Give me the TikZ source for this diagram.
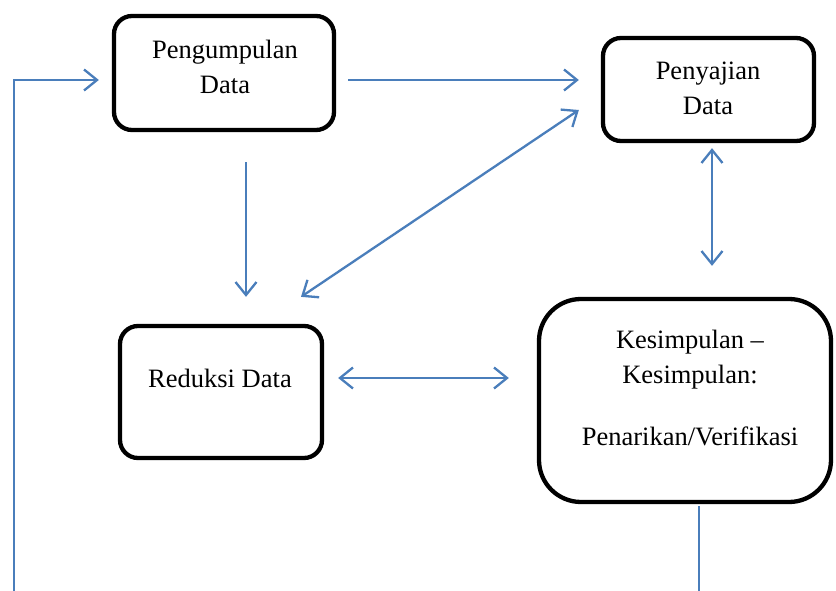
\documentclass[tikz,border=0pt]{standalone}
\usepackage{fontspec}
\setmainfont{Liberation Serif}
\usetikzlibrary{arrows.meta,calc}
\definecolor{arrblue}{RGB}{74,126,187}
\begin{document}
\begin{tikzpicture}[x=1pt,y=-1pt,
 box/.style={draw=black,line width=4.3pt,rounded corners=18pt,inner sep=0pt},
 lbl/.style={font=\fontsize{26.5}{35}\selectfont,align=center,inner sep=0pt},
 tipb/.tip={Straight Barb[length=13pt,width=21pt]},
 arr/.style={draw=arrblue,line width=2.3pt,-tipb},
 darr/.style={draw=arrblue,line width=2.3pt,tipb-tipb},
 plain/.style={draw=arrblue,line width=1.6pt}]
\useasboundingbox (0,0) rectangle (836,591);
\node[box,minimum width=220pt,minimum height=114pt] (peng) at (224,73) {};
\node[box,minimum width=211pt,minimum height=103pt] (peny) at (708.5,89.5) {};
\node[box,minimum width=202pt,minimum height=132pt] (red) at (221,392) {};
\node[box,rounded corners=42pt,minimum width=292pt,minimum height=203pt] (kes) at (685,400.5) {};
\node[lbl] (tpeng) at (225,67) {Pengumpulan\\Data};
\node[lbl] (tpeny) at (708,88) {Penyajian\\Data};
\node[lbl] (tred) at (220,378) {Reduksi Data};
\node[lbl] (tkes) at (690,388) {Kesimpulan --\\Kesimpulan:\\[27pt]Penarikan/Verifikasi};
\coordinate (lb) at (14,591);
\coordinate (bb) at (699,591);
\draw[arr] (lb) |- ([shift={(-13,7)}]peng.west);
\draw[arr] ([shift={(12,7)}]peng.east) -- ([shift={(-22,-9.5)}]peny.west);
\draw[arr] ([shift={(22,30)}]peng.south) -- ([shift={(25,-27)}]red.north);
\draw[darr] ([shift={(80,-27)}]red.north) -- ([shift={(-22,20.5)}]peny.west);
\draw[darr] ([shift={(3.5,5)}]peny.south) -- ([shift={(27,-31)}]kes.north);
\draw[darr] ([shift={(14,-14)}]red.east) -- ([shift={(-28,-22.5)}]kes.west);
\draw[plain] ([shift={(14,2)}]kes.south) -- (bb);
\end{tikzpicture}
\end{document}
